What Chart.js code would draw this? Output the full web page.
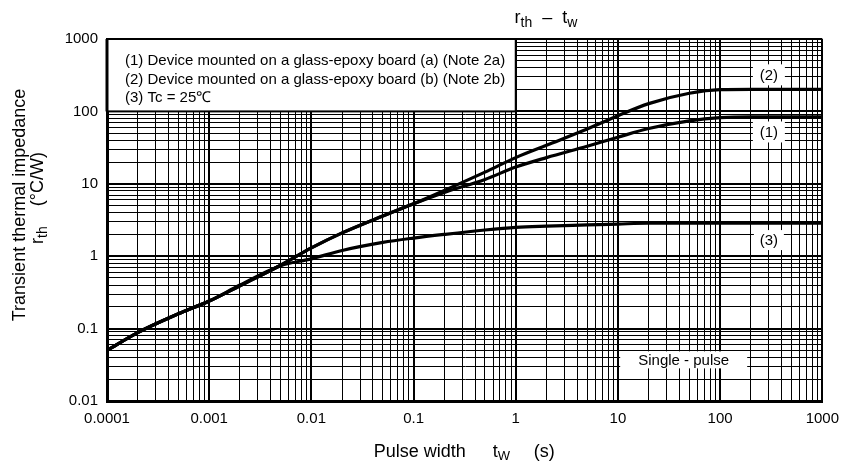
<!DOCTYPE html>
<html>
<head>
<meta charset="utf-8">
<script src="https://cdn.jsdelivr.net/npm/chart.js@4"></script>
<style>
  html, body { margin: 0; padding: 0; background: #fff; }
  #wrap { width: 848px; height: 469px; }
</style>
</head>
<body>
<div id="wrap"><canvas id="rthChart" width="848" height="469"></canvas></div>
<script>
// pulse width tw (s)
const pulseWidth = [0.0001, 0.0002, 0.0005, 0.001, 0.002, 0.005, 0.01, 0.02, 0.05, 0.1, 0.2, 0.5, 1, 2, 5, 10, 20, 50, 100, 200, 500, 1000];
// rth (°C/W)
const boardA = [0.05, 0.088, 0.16, 0.24, 0.39, 0.75, 1.3, 2.1, 3.6, 5.3, 7.6, 11.5, 17, 23, 33, 44, 58, 74, 82, 84, 84, 84];
const boardB = [0.05, 0.088, 0.16, 0.24, 0.39, 0.75, 1.3, 2.1, 3.6, 5.3, 8.1, 14.5, 23, 34, 57, 87, 128, 178, 200, 202, 202, 202];
const caseTc25 = [0.05, 0.088, 0.16, 0.24, 0.40, 0.74, 0.92, 1.2, 1.55, 1.78, 2.0, 2.3, 2.5, 2.6, 2.7, 2.78, 2.85, 2.85, 2.85, 2.85, 2.85, 2.85];

const xTickLabels = ['0.0001', '0.001', '0.01', '0.1', '1', '10', '100', '1000'];
const yTickLabels = ['0.01', '0.1', '1', '10', '100', '1000'];
const curveNames = ['(1)', '(2)', '(3)'];
const noteLines = [
  '(1) Device mounted on a glass-epoxy board (a) (Note 2a)',
  '(2) Device mounted on a glass-epoxy board (b) (Note 2b)',
  '(3) Tc = 25\u2103'
];

const FONT = '"Liberation Sans", Arial, sans-serif';

function isDecade(v) {
  const e = Math.log10(v);
  return Math.abs(e - Math.round(e)) < 1e-6;
}

// 1..9 x each decade, ending on the last decade
function logTicks(labels) {
  const decades = labels.map(Number);
  const out = [];
  decades.forEach((d, i) => {
    out.push({ value: d, major: true });
    if (i < decades.length - 1) {
      for (let k = 2; k <= 9; k++) out.push({ value: Number((k * d).toPrecision(6)) });
    }
  });
  return out;
}

function decadeLabel(labels) {
  return function (value) {
    if (!isDecade(value)) return '';
    const found = labels.find(l => Math.abs(Number(l) - value) / value < 1e-6);
    return found || '';
  };
}

function points(ys) {
  return pulseWidth.map((x, i) => ({ x: x, y: ys[i] }));
}

// draw text made of normal and subscript pieces, centred on cx
function drawRich(ctx, parts, cx, baseline, size, subSize, drop) {
  const widths = parts.map(p => {
    ctx.font = (p[1] ? subSize : size) + 'px ' + FONT;
    return ctx.measureText(p[0]).width;
  });
  const total = widths.reduce((a, b) => a + b, 0);
  let x = cx - total / 2;
  ctx.textAlign = 'left';
  ctx.textBaseline = 'alphabetic';
  parts.forEach((p, i) => {
    ctx.font = (p[1] ? subSize : size) + 'px ' + FONT;
    ctx.fillText(p[0], x, baseline + (p[1] ? drop : 0));
    x += widths[i];
  });
}

function labelBox(ctx, text, cx, cy, w, h) {
  ctx.fillStyle = '#fff';
  ctx.fillRect(cx - w / 2, cy - h / 2, w, h);
  ctx.fillStyle = '#000';
  ctx.font = '15px ' + FONT;
  ctx.textAlign = 'center';
  ctx.textBaseline = 'middle';
  ctx.fillText(text, cx, cy + 1);
}

const overlay = {
  id: 'overlay',
  beforeDatasetsDraw(chart) {
    const ctx = chart.ctx;
    const x = chart.scales.x, y = chart.scales.y;
    ctx.save();

    // note box in the upper left corner
    const l = x.getPixelForValue(0.0001), r = x.getPixelForValue(1);
    const t = y.getPixelForValue(1000), b = y.getPixelForValue(100);
    ctx.fillStyle = '#fff';
    ctx.fillRect(l, t, r - l, b - t);
    ctx.strokeStyle = '#000';
    ctx.lineWidth = 2;
    ctx.strokeRect(l, t, r - l, b - t);
    ctx.lineWidth = 3;
    ctx.beginPath();
    ctx.moveTo(l, t); ctx.lineTo(l, b);
    ctx.stroke();
    ctx.fillStyle = '#000';
    ctx.font = '15px ' + FONT;
    ctx.textAlign = 'left';
    ctx.textBaseline = 'middle';
    noteLines.forEach((line, i) => ctx.fillText(line, l + 18, t + 22 + i * 18.5));

    // curve labels
    const lx = x.getPixelForValue(300);
    labelBox(ctx, curveNames[1], lx, y.getPixelForValue(320), 32, 21);
    labelBox(ctx, curveNames[0], lx, y.getPixelForValue(52), 32, 21);
    labelBox(ctx, curveNames[2], lx, y.getPixelForValue(1.67), 30, 20);
    labelBox(ctx, 'Single - pulse', x.getPixelForValue(44), y.getPixelForValue(0.037), 127, 17);
    ctx.restore();
  },
  afterDraw(chart) {
    const ctx = chart.ctx;
    const area = chart.chartArea;
    const mid = (area.left + area.right) / 2;
    ctx.save();
    ctx.fillStyle = '#000';

    // title  r_th – t_w
    drawRich(ctx, [['r', 0], ['th', 1], ['  \u2013  ', 0], ['t', 0], ['w', 1]], 546, 23, 18, 14, 4);

    // x axis title: Pulse width   t_W   (s)
    ctx.textAlign = 'left';
    ctx.textBaseline = 'alphabetic';
    ctx.font = '18px ' + FONT;
    ctx.fillText('Pulse width', mid - 91, 457);
    ctx.fillText('t', mid + 28, 457);
    const tw = ctx.measureText('t').width;
    ctx.fillText('(s)', mid + 69, 457);
    ctx.font = '13px ' + FONT;
    ctx.fillText('W', mid + 28 + tw, 460);

    // y axis title, two rotated lines
    ctx.save();
    ctx.translate(25, 205);
    ctx.rotate(-Math.PI / 2);
    drawRich(ctx, [['Transient thermal impedance', 0]], 0, 0, 18, 13, 0);
    ctx.restore();
    ctx.save();
    ctx.translate(43, 198);
    ctx.rotate(-Math.PI / 2);
    drawRich(ctx, [['r', 0], ['th', 1], ['    (\u00B0C/W)', 0]], 0, 0, 18, 14, 4);
    ctx.restore();

    ctx.restore();
  }
};

function lineSet(name, ys) {
  return {
    label: name,
    data: points(ys),
    borderColor: '#000',
    borderWidth: 3.2,
    pointRadius: 0,
    fill: false,
    cubicInterpolationMode: 'monotone'
  };
}

const tickFont = { family: FONT, size: 15 };
const gridOpts = {
  color: '#000',
  lineWidth: c => (c.tick && isDecade(c.tick.value) ? 2 : 1),
  drawTicks: false
};

new Chart(document.getElementById('rthChart').getContext('2d'), {
  type: 'line',
  data: {
    datasets: [
      lineSet(curveNames[0], boardA),
      lineSet(curveNames[1], boardB),
      lineSet(curveNames[2], caseTc25)
    ]
  },
  options: {
    responsive: false,
    animation: false,
    layout: { padding: { left: 0, top: 39, right: 18, bottom: 0 } },
    plugins: { legend: { display: false }, tooltip: { enabled: false } },
    scales: {
      x: {
        type: 'logarithmic',
        min: 0.0001,
        max: 1000,
        afterBuildTicks: s => { s.ticks = logTicks(xTickLabels); },
        afterFit: s => { s.height = 68; },
        ticks: { autoSkip: false, maxRotation: 0, padding: 9, color: '#000', font: tickFont, callback: decadeLabel(xTickLabels) },
        grid: gridOpts,
        border: { color: '#000', width: 3 }
      },
      y: {
        type: 'logarithmic',
        min: 0.01,
        max: 1000,
        afterBuildTicks: s => { s.ticks = logTicks(yTickLabels); },
        afterFit: s => { s.width = 107; },
        ticks: { autoSkip: false, padding: 9, color: '#000', font: tickFont, callback: decadeLabel(yTickLabels) },
        grid: gridOpts,
        border: { color: '#000', width: 3 }
      }
    }
  },
  plugins: [overlay]
});
</script>
</body>
</html>
